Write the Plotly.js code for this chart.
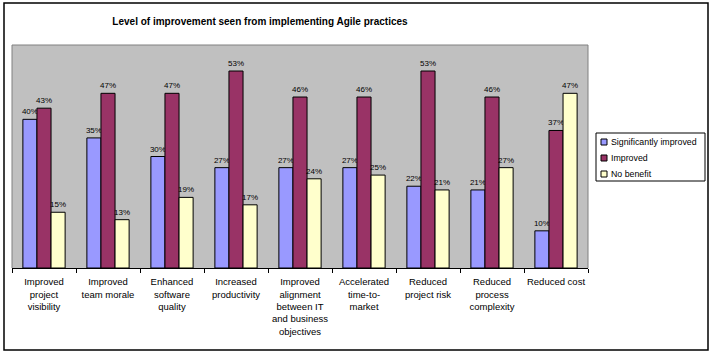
<!DOCTYPE html>
<html>
<head>
<meta charset="utf-8">
<script src="https://cdn.plot.ly/plotly-3.0.1.min.js"></script>
<style>html,body{margin:0;padding:0;background:#fff;}#chart{width:712px;height:354px;}</style>
</head>
<body>
<div id="chart"></div>
<script>
const categories = [
  "Improved<br>project<br>visibility",
  "Improved<br>team morale",
  "Enhanced<br>software<br>quality",
  "Increased<br>productivity",
  "Improved<br>alignment<br>between IT<br>and business<br>objectives",
  "Accelerated<br>time-to-<br>market",
  "Reduced<br>project risk",
  "Reduced<br>process<br>complexity",
  "Reduced cost"
];
const significantlyImproved = [40, 35, 30, 27, 27, 27, 22, 21, 10];
const improved = [43, 47, 47, 53, 46, 46, 53, 46, 37];
const noBenefit = [15, 13, 19, 17, 24, 25, 21, 27, 47];
const seriesNames = ["Significantly improved", "Improved", "No benefit"];
const seriesColors = ["#9999FF", "#993366", "#FFFFCC"];

const FONT = "Liberation Sans, Arial, sans-serif";
const allSeries = [significantlyImproved, improved, noBenefit];
const traces = allSeries.map((vals, i) => ({
  type: "bar",
  name: seriesNames[i],
  x: categories,
  y: vals,
  marker: {color: seriesColors[i], line: {color: "#000000", width: 1}},
  text: vals.map(v => v + "%"),
  textposition: "outside",
  textfont: {family: FONT, size: 8, color: "#000000"},
  constraintext: "none",
  cliponaxis: false,
  hoverinfo: "skip",
  showlegend: false
}));

const L = 12, R = 588, T = 45, B = 268;
const W = R - L, H = B - T;
const px = x => (x - L) / W;
const py = y => (B - y) / H;

const shapes = [{
  // plot-area frame (grey, left/top/right)
  type: "path", xref: "paper", yref: "paper",
  path: "M0,0 L0,1 L1,1 L1,0",
  line: {color: "#808080", width: 1}, layer: "above"
}, {
  // outer chart border
  type: "rect", xref: "paper", yref: "paper",
  x0: px(4), x1: px(708), y0: py(350), y1: py(3),
  line: {color: "#000000", width: 1.5}, fillcolor: "rgba(0,0,0,0)", layer: "above"
}, {
  // legend box
  type: "rect", xref: "paper", yref: "paper",
  x0: px(596), x1: px(705), y0: py(181), y1: py(133),
  line: {color: "#000000", width: 1}, fillcolor: "#ffffff", layer: "above"
}];
const annotations = [];
const rowY = [142, 158, 174];
seriesNames.forEach((name, i) => {
  shapes.push({
    type: "rect", xref: "paper", yref: "paper",
    x0: px(601), x1: px(607), y0: py(rowY[i] + 3), y1: py(rowY[i] - 3),
    line: {color: "#000000", width: 1}, fillcolor: seriesColors[i], layer: "above"
  });
  annotations.push({
    xref: "paper", yref: "paper", x: px(609), y: py(rowY[i]),
    xanchor: "left", yanchor: "middle", showarrow: false,
    text: name, font: {family: FONT, size: 8.8, color: "#000000"}
  });
});

const layout = {
  width: 712, height: 354,
  margin: {l: L, r: 712 - R, t: T, b: 354 - B, pad: 0},
  paper_bgcolor: "#ffffff",
  plot_bgcolor: "#C0C0C0",
  font: {family: FONT, size: 9, color: "#000000"},
  barmode: "group",
  bargap: 0.34,
  bargroupgap: 0,
  showlegend: false,
  title: {
    text: "<b>Level of improvement seen from implementing Agile practices</b>",
    font: {family: FONT, size: 10, color: "#000000"},
    xref: "container", x: 260 / 712, xanchor: "center",
    yref: "container", y: 1 - 21 / 354, yanchor: "middle"
  },
  xaxis: {
    type: "category",
    showline: true, linecolor: "#000000", linewidth: 1,
    ticks: "outside", tickson: "boundaries", ticklen: 4, tickcolor: "#000000",
    showgrid: false, tickangle: 0,
    ticklabelstandoff: 5,
    tickfont: {family: FONT, size: 9.5, color: "#000000"},
    automargin: false
  },
  yaxis: {
    range: [0, 60],
    showticklabels: false, ticks: "", showgrid: false, zeroline: false,
    showline: false,
    automargin: false
  },
  shapes: shapes,
  annotations: annotations
};

Plotly.newPlot("chart", traces, layout, {displayModeBar: false, staticPlot: true});
</script>
</body>
</html>
